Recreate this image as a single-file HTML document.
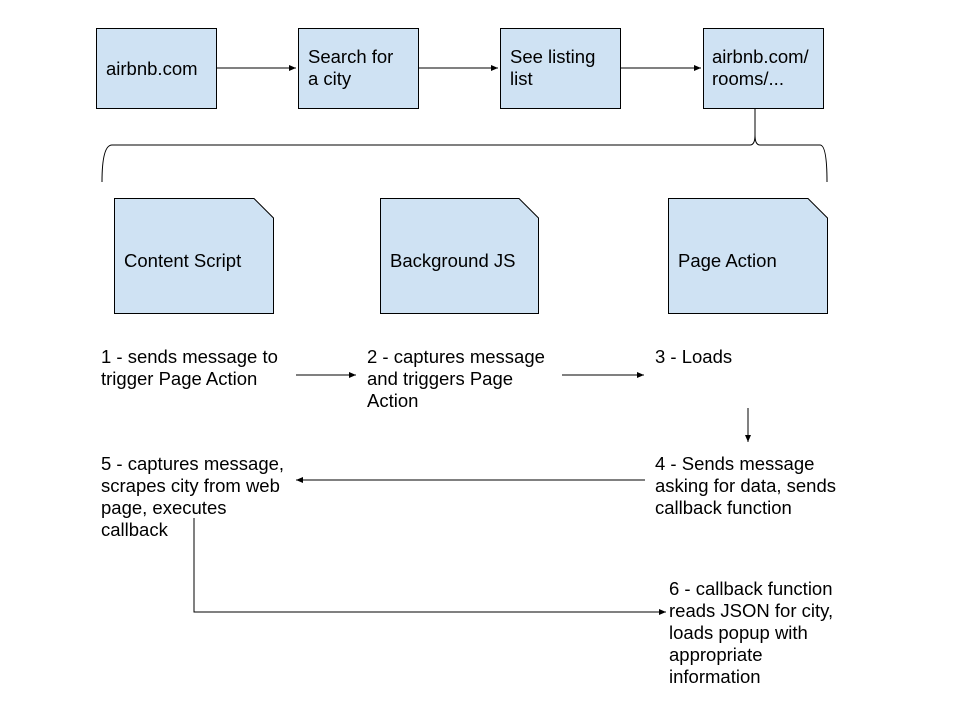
<!DOCTYPE html>
<html><head><meta charset="utf-8"><style>html,body{margin:0;padding:0;background:#fff}svg{display:block}</style></head>
<body>
<svg width="960" height="720" viewBox="0 0 960 720" xmlns="http://www.w3.org/2000/svg" font-family="Liberation Sans, Arial, sans-serif" font-size="18.5" fill="#000">
<defs><marker id="a" markerWidth="8" markerHeight="8" refX="7" refY="4" orient="auto" markerUnits="userSpaceOnUse"><path d="M0,1 L7,4 L0,7 z" fill="#000"/></marker></defs>
<g fill="#cfe2f3" stroke="#000" stroke-width="1">
<rect x="96.5" y="28.5" width="120" height="80"/>
<rect x="298.5" y="28.5" width="120" height="80"/>
<rect x="500.5" y="28.5" width="120" height="80"/>
<rect x="703.5" y="28.5" width="120" height="80"/>
<path d="M114.5,198.5 H254 L273.5,218 V313.5 H114.5 Z"/>
<path d="M380.5,198.5 H519 L538.5,218 V313.5 H380.5 Z"/>
<path d="M668.5,198.5 H808 L827.5,218 V313.5 H668.5 Z"/>
</g>
<g stroke="#000" stroke-width="1" fill="none">
<path d="M216,68 H296" marker-end="url(#a)"/>
<path d="M418,68 H498" marker-end="url(#a)"/>
<path d="M620,68 H701" marker-end="url(#a)"/>
<path d="M102,182 Q102,145 112,145 H750 Q755,145 755,135 V108 M755,135 Q755,145 760,145 H820 Q827,145 827,182"/>
<path d="M296,375 H356" marker-end="url(#a)"/>
<path d="M562,375 H644" marker-end="url(#a)"/>
<path d="M748,408 V442" marker-end="url(#a)"/>
<path d="M645,480 H296" marker-end="url(#a)"/>
<path d="M194,518 V612 H666" marker-end="url(#a)"/>
</g>
<text x="106" y="75">airbnb.com</text>
<text x="308" y="63">Search for</text><text x="308" y="85">a city</text>
<text x="510" y="63">See listing</text><text x="510" y="85">list</text>
<text x="712" y="63">airbnb.com/</text><text x="712" y="85">rooms/...</text>
<text x="124" y="267">Content Script</text>
<text x="390" y="267">Background JS</text>
<text x="678" y="267">Page Action</text>
<text x="101" y="363">1 - sends message to</text><text x="101" y="385">trigger Page Action</text>
<text x="367" y="363">2 - captures message</text><text x="367" y="385">and triggers Page</text><text x="367" y="407">Action</text>
<text x="655" y="363">3 - Loads</text>
<text x="655" y="470">4 - Sends message</text><text x="655" y="492">asking for data, sends</text><text x="655" y="514">callback function</text>
<text x="101" y="470">5 - captures message,</text><text x="101" y="492">scrapes city from web</text><text x="101" y="514">page, executes</text><text x="101" y="536">callback</text>
<text x="669" y="595">6 - callback function</text><text x="669" y="617">reads JSON for city,</text><text x="669" y="639">loads popup with</text><text x="669" y="661">appropriate</text><text x="669" y="683">information</text>
</svg>
</body></html>
